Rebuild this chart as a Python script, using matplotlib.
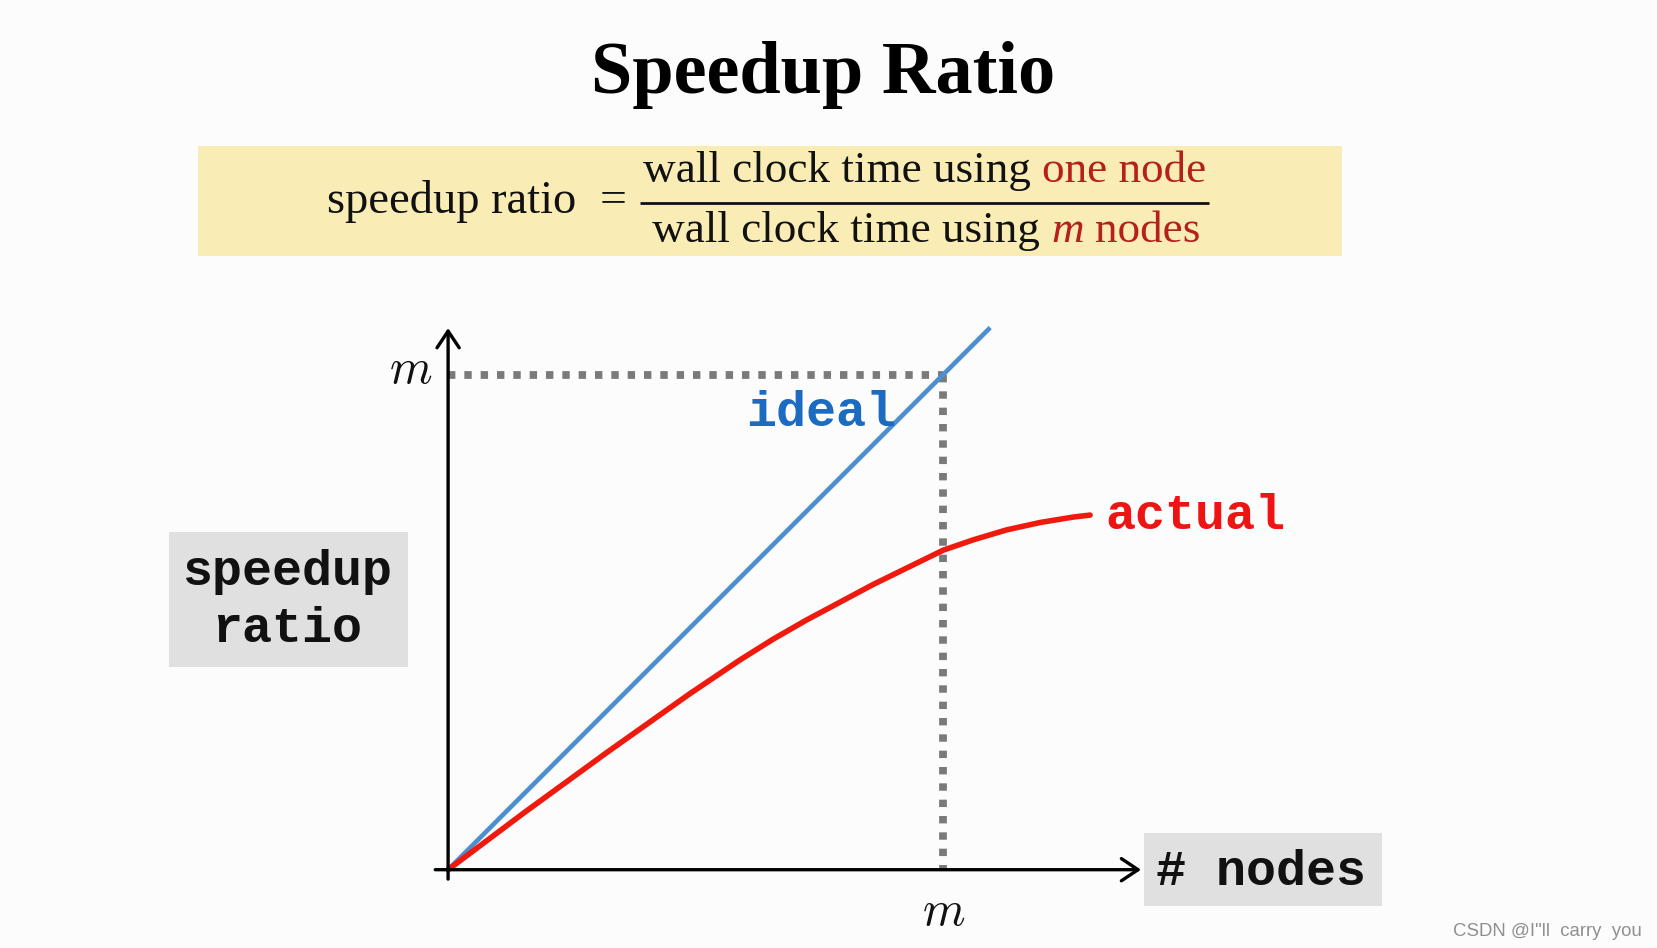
import matplotlib
matplotlib.use("Agg")
import matplotlib.pyplot as plt
from matplotlib.patches import Rectangle

# ---------------- data ----------------
ideal_x = [0.0, 1.096]
ideal_y = [0.0, 1.096]
actual_x = [0.000, 0.152, 0.321, 0.489, 0.590, 0.657, 0.725, 0.860, 1.001,
            1.062, 1.129, 1.197, 1.264, 1.298]
actual_y = [0.000, 0.114, 0.237, 0.356, 0.424, 0.466, 0.505, 0.577, 0.646,
            0.667, 0.687, 0.702, 0.713, 0.717]
m_level = 1.0            # the "m" reference value on both axes
tick_label = "$m$"
series_labels = ["ideal", "actual"]
y_label_lines = ["speedup", "ratio"]
x_label = "# nodes"
title = "Speedup Ratio"
formula_lhs = "speedup ratio"
formula_num = [("wall clock time using", "k", "normal"), ("one node", "r", "normal")]
formula_den = [("wall clock time using", "k", "normal"), ("m", "r", "italic"), ("nodes", "r", "normal")]
watermark = 'CSDN @I"ll  carry  you'

# ---------------- style ----------------
W, H, DPI = 1657, 948, 100
BG = "#fcfcfc"
BLUE = "#4b8fcf"
BLUE_TXT = "#1b6cc0"
RED = "#f0190d"
RED_TXT = "#ee1414"
FRED = "#b5201c"
GRAY = "#7a7a7a"
BOXGRAY = "#e0e0e0"
YELLOW = "#f9ecb5"
SERIF = "Liberation Serif"
MONO = "Liberation Mono"
plt.rcParams["mathtext.fontset"] = "cm"

fig = plt.figure(figsize=(W / DPI, H / DPI), dpi=DPI)
fig.patch.set_facecolor(BG)

ORIGIN = (448.1, 869.7)   # pixel position of data (0,0)
UNIT = 494.6              # pixels per data unit

ax = fig.add_axes([0, 0, 1, 1])
ax.set_xlim(-ORIGIN[0] / UNIT, (W - ORIGIN[0]) / UNIT)
ax.set_ylim(-(H - ORIGIN[1]) / UNIT, ORIGIN[1] / UNIT)
ax.set_facecolor("none")
ax.axis("off")


def P(x, y):
    """layout position given in pixels -> data coords"""
    return ((x - ORIGIN[0]) / UNIT, (ORIGIN[1] - y) / UNIT)


def box(x0, y0, x1, y1, color, z=0):
    bl = P(x0, y1)
    ax.add_patch(Rectangle(bl, (x1 - x0) / UNIT, (y1 - y0) / UNIT,
                           facecolor=color, edgecolor="none", zorder=z))


# ---------------- title ----------------
ax.text(*P(823.5, 93), title, ha="center", va="baseline", family=SERIF,
        weight="bold", fontsize=53.5, color="black")

# ---------------- formula box ----------------
box(198, 146, 1342, 256, YELLOW)
FS = 32.5
ax.text(*P(576, 213), formula_lhs, ha="right", va="baseline", family=SERIF,
        fontsize=FS + 1, color="#111111")
ax.text(*P(613, 213), "=", ha="center", va="baseline", family=SERIF,
        fontsize=FS + 2, color="#111111")
ax.plot([P(640, 0)[0], P(1209, 0)[0]], [P(0, 203)[1]] * 2, color="#111111",
        lw=2.0, solid_capstyle="butt")

renderer = fig.canvas.get_renderer()


def width_px(s, style="normal"):
    t = ax.text(0, 0, s, family=SERIF, fontsize=FS, style=style)
    w = t.get_window_extent(renderer=renderer).width
    t.remove()
    return w


space = width_px("a a") - width_px("aa")


def draw_parts(parts, cx, base):
    widths = [width_px(s, st) for s, c, st in parts]
    total = sum(widths) + space * (len(parts) - 1)
    x = cx - total / 2
    for (s, c, st), w in zip(parts, widths):
        ax.text(*P(x, base), s, ha="left", va="baseline", family=SERIF,
                fontsize=FS, style=st, color=("#111111" if c == "k" else FRED))
        x += w + space


draw_parts(formula_num, 924.5, 182)
draw_parts(formula_den, 926, 242)

# ---------------- chart ----------------
arrow = dict(arrowstyle="->,head_length=0.6,head_width=0.4", lw=2.4,
             color="black", shrinkA=0, shrinkB=0, mutation_scale=20)
ax.annotate("", xy=(1.401, 0), xytext=(-0.026, 0), arrowprops=arrow, zorder=5)
ax.annotate("", xy=(0, 1.095), xytext=(0, -0.019), arrowprops=arrow, zorder=5)

ax.plot([0, m_level], [m_level, m_level], color=GRAY, lw=5.6,
        dashes=(0.95, 1.15), dash_capstyle="butt", zorder=2)
ax.plot([m_level, m_level], [m_level, 0], color=GRAY, lw=5.6,
        dashes=(0.95, 1.15), dash_capstyle="butt", zorder=2)

ax.plot(ideal_x, ideal_y, color=BLUE, lw=3.3, solid_capstyle="butt", zorder=3)
ax.plot(actual_x, actual_y, color=RED, lw=4.0, solid_capstyle="round",
        solid_joinstyle="round", zorder=4)

ax.text(*P(821.5, 426), series_labels[0], ha="center", va="baseline",
        family=MONO, weight="bold", fontsize=36, color=BLUE_TXT)
ax.text(*P(1195, 529), series_labels[1], ha="center", va="baseline",
        family=MONO, weight="bold", fontsize=36, color=RED_TXT)

# tick labels "m"
ax.text(*P(410.5, 383), tick_label, ha="center", va="baseline", fontsize=35,
        color="#111111")
ax.text(*P(943.5, 925), tick_label, ha="center", va="baseline", fontsize=35,
        color="#111111")

# axis label boxes
box(169, 532, 408, 667, BOXGRAY)
ax.text(*P(287, 585), y_label_lines[0], ha="center", va="baseline",
        family=MONO, weight="bold", fontsize=36, color="#111111")
ax.text(*P(287, 642), y_label_lines[1], ha="center", va="baseline",
        family=MONO, weight="bold", fontsize=36, color="#111111")

box(1143.6, 832.7, 1382, 906, BOXGRAY)
ax.text(*P(1261.5, 885), x_label, ha="center", va="baseline",
        family=MONO, weight="bold", fontsize=36, color="#111111")

# watermark
ax.text(*P(1453, 936), watermark, ha="left", va="baseline",
        family="Liberation Sans", fontsize=13.4, color="#909090")

fig.savefig("out.png", dpi=DPI, facecolor=BG)
